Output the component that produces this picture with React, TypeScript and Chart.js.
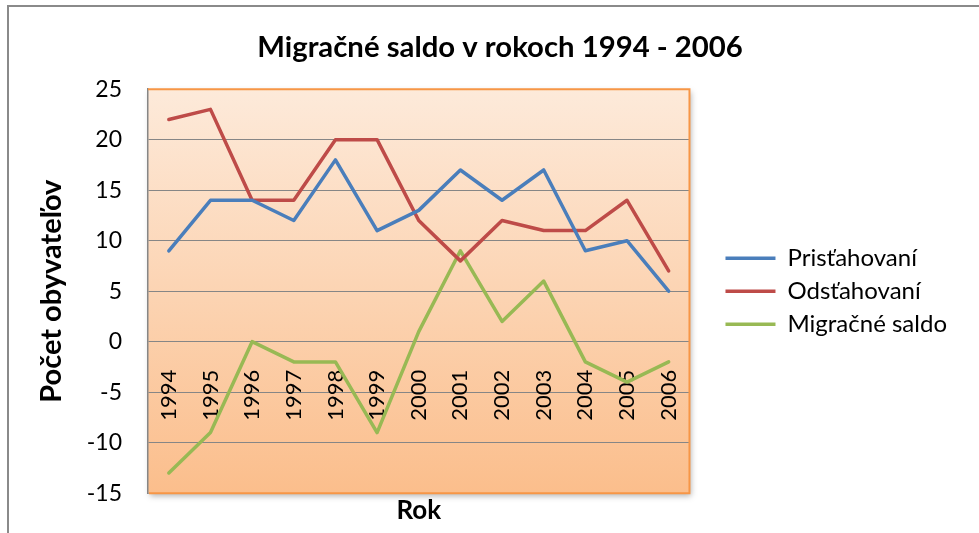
import React, { useEffect, useRef } from "react";
import { Chart, registerables } from "chart.js";

Chart.register(...registerables);

const chartTitle = "Migračné saldo v rokoch 1994 - 2006";
const yAxisTitle = "Počet obyvateľov";
const xAxisTitle = "Rok";
const years = ["1994", "1995", "1996", "1997", "1998", "1999", "2000", "2001", "2002", "2003", "2004", "2005", "2006"];
const seriesNames = ["Prisťahovaní", "Odsťahovaní", "Migračné saldo"];
const prisahovani = [9, 14, 14, 12, 18, 11, 13, 17, 14, 17, 9, 10, 5];
const odsahovani = [22, 23, 14, 14, 20, 20, 12, 8, 12, 11, 11, 14, 7];
const saldo = [-13, -9, 0, -2, -2, -9, 1, 9, 2, 6, -2, -4, -2];
const yMin = -15;
const yMax = 25;
const yStep = 5;
const seriesColors = ["#4A7EBB", "#BE4B48", "#98B954"];

const FONT = "Lato, 'Open Sans', sans-serif";

const plotBg = {
  id: "plotBg",
  beforeDraw(chart: any) {
    const { ctx, chartArea: a } = chart;
    ctx.save();
    const g = ctx.createLinearGradient(0, a.top, 0, a.bottom);
    g.addColorStop(0, "#FDEADA");
    g.addColorStop(1, "#FBBE8C");
    ctx.shadowColor = "rgba(0,0,0,0.3)";
    ctx.shadowBlur = 6;
    ctx.shadowOffsetX = 2;
    ctx.shadowOffsetY = 3;
    ctx.fillStyle = g;
    ctx.fillRect(a.left, a.top, a.right - a.left, a.bottom - a.top);
    ctx.restore();
  },
  afterDraw(chart: any) {
    const { ctx, chartArea: a } = chart;
    ctx.save();
    ctx.strokeStyle = "#F79646";
    ctx.lineWidth = 2;
    ctx.beginPath();
    ctx.moveTo(a.left, a.top);
    ctx.lineTo(a.right, a.top);
    ctx.lineTo(a.right, a.bottom);
    ctx.lineTo(a.left + 1, a.bottom);
    ctx.stroke();
    ctx.restore();
  },
};

const xLabels = {
  id: "xLabels",
  beforeDatasetsDraw(chart: any) {
    const { ctx } = chart;
    const xs = chart.scales.x;
    const ys = chart.scales.y;
    const y0 = ys.getPixelForValue(0);
    ctx.save();
    ctx.fillStyle = "#000";
    ctx.font = `22px ${FONT}`;
    ctx.textAlign = "right";
    ctx.textBaseline = "middle";
    years.forEach((lab, i) => {
      const x = xs.getPixelForValue(i);
      ctx.save();
      ctx.translate(x, y0 + 28);
      ctx.rotate(-Math.PI / 2);
      ctx.fillText(lab, 0, 0);
      ctx.restore();
    });
    ctx.restore();
  },
};

export default function App() {
  const ref = useRef<HTMLCanvasElement>(null);

  useEffect(() => {
    if (!ref.current) return;
    const mk = (i: number, data: number[]) => ({
      label: seriesNames[i],
      data,
      borderColor: seriesColors[i],
      backgroundColor: seriesColors[i],
      borderWidth: 3.5,
      pointRadius: 0,
      pointHoverRadius: 0,
      tension: 0,
      fill: false,
      borderJoinStyle: "round" as const,
      borderCapStyle: "round" as const,
    });
    const chart = new Chart(ref.current, {
      type: "line",
      data: {
        labels: years,
        datasets: [mk(0, prisahovani), mk(1, odsahovani), mk(2, saldo)],
      },
      plugins: [plotBg, xLabels],
      options: {
        responsive: false,
        maintainAspectRatio: false,
        animation: false,
        devicePixelRatio: 1,
        events: [],
        layout: { padding: { left: 21, right: 0, top: 0, bottom: 0 } },
        plugins: {
          title: {
            display: true,
            text: chartTitle,
            color: "#000",
            font: { family: FONT, size: 29.3, weight: "bold" },
            padding: { top: 30, bottom: 24 },
          },
          legend: {
            position: "right",
            align: "center",
            fullSize: false,
            maxWidth: 400,
            labels: {
              usePointStyle: true,
              pointStyle: "line",
              pointStyleWidth: 50,
              color: "#000",
              font: { family: FONT, size: 24 },
              padding: 9,
            },
          },
          tooltip: { enabled: false },
        },
        scales: {
          x: {
            offset: true,
            ticks: { display: false },
            grid: { display: false, drawTicks: false },
            border: { display: false },
            title: {
              display: true,
              text: xAxisTitle,
              color: "#000",
              font: { family: FONT, size: 26, weight: "bold" },
              padding: { top: 0, bottom: 0 },
            },
            afterFit: (s: any) => {
              s.height = 33;
            },
          },
          y: {
            min: yMin,
            max: yMax,
            ticks: {
              stepSize: yStep,
              color: "#000",
              font: { family: FONT, size: 23 },
              padding: 26,
            },
            grid: { color: "#868686", lineWidth: 1, drawTicks: false },
            border: { display: true, color: "#868686", width: 1.5 },
            title: {
              display: true,
              text: yAxisTitle,
              color: "#000",
              font: { family: FONT, size: 29, weight: "bold" },
              padding: { top: 13.6, bottom: 0 },
            },
            afterFit: (s: any) => {
              s.width = 127;
            },
          },
          gapIn: {
            type: "linear",
            position: "right",
            display: true,
            ticks: { display: false },
            grid: { display: false, drawTicks: false },
            border: { display: false },
            afterFit: (s: any) => {
              s.width = 27;
            },
          },
          gapOut: {
            type: "linear",
            position: "right",
            weight: 2000,
            display: true,
            ticks: { display: false },
            grid: { display: false, drawTicks: false },
            border: { display: false },
            afterFit: (s: any) => {
              s.width = 22;
            },
          },
        } as any,
      },
    });
    return () => chart.destroy();
  }, []);

  return (
    <div
      style={{
        position: "absolute",
        left: 0,
        top: 0,
        width: 979,
        height: 533,
        overflow: "hidden",
        background: "#fff",
      }}
    >
      <div
        style={{
          position: "absolute",
          left: 7,
          top: 5,
          width: 2000,
          height: 2000,
          borderTop: "2px solid #8a8a8a",
          borderLeft: "2px solid #8a8a8a",
        }}
      />
      <canvas
        ref={ref}
        width={979}
        height={533}
        style={{ position: "absolute", left: 0, top: 0 }}
      />
    </div>
  );
}
